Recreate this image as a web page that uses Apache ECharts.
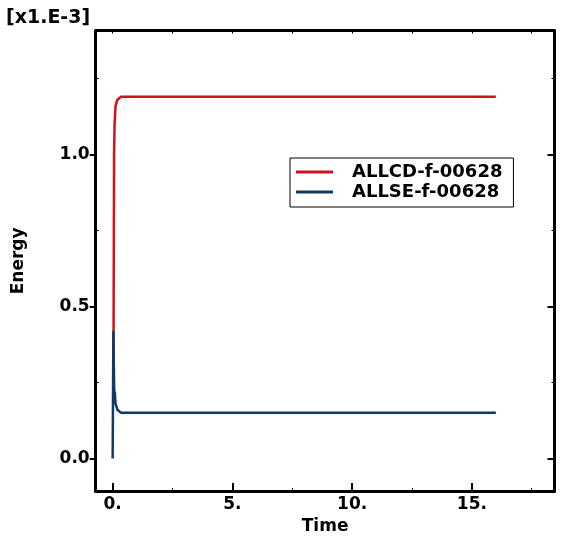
<!DOCTYPE html>
<html>
<head>
<meta charset="utf-8">
<script src="https://cdn.jsdelivr.net/npm/echarts@6/dist/echarts.min.js"></script>
<style>
  html, body { margin: 0; padding: 0; background: #fff; }
  #chart { width: 567px; height: 543px; }
</style>
</head>
<body>
<div id="chart"></div>
<script>
// energy values in units of 1e-3
const allcdTime = [0.03, 0.04, 0.05, 0.06, 0.08, 0.12, 0.2, 0.35, 1, 16];
const allcdVal = [0.2, 0.45, 0.75, 1.0, 1.1, 1.16, 1.18, 1.19, 1.19, 1.19];
const allseTime = [0, 0.03, 0.05, 0.07, 0.09, 0.12, 0.2, 0.35, 16];
const allseVal = [0, 0.42, 0.3, 0.2, 0.22, 0.18, 0.16, 0.15, 0.15];

const xMajor = [0, 5, 10, 15];
const xMinor = [2.5, 7.5, 12.5, 17.5];
const xAll = [0, 2.5, 5, 7.5, 10, 12.5, 15, 17.5];
const yMajor = [0, 0.5, 1.0];
const yMinor = [0.25, 0.75, 1.25];

const X_MIN = -0.708, X_MAX = 18.45;
const Y_MIN = -0.107, Y_MAX = 1.407;

const font = "DejaVu Sans";
const lbl = { fontFamily: font, fontSize: 17, fontWeight: "bold", color: "#000" };
const blackLine = { show: true, onZero: false, lineStyle: { color: "#000", width: 3 } };
const noLine = { show: false, onZero: false };

const pairs = (t, v) => t.map((x, i) => [x, v[i]]);

const chart = echarts.init(document.getElementById("chart"));

chart.setOption({
  animation: false,
  backgroundColor: "#fff",
  title: {
    text: "[x1.E-3]",
    left: 6,
    top: 9,
    padding: 0,
    textStyle: { fontFamily: font, fontSize: 19, fontWeight: "bold", color: "#000" }
  },
  grid: {
    left: 95.7,
    right: 12.5,
    top: 30.7,
    bottom: 52,
    outerBoundsMode: "none"
  },
  legend: {
    left: 290,
    top: 158,
    orient: "vertical",
    backgroundColor: "#fff",
    borderColor: "#000",
    borderWidth: 1,
    padding: [4, 11, 5, 6],
    itemWidth: 37,
    itemHeight: 3,
    itemGap: 0,
    icon: "rect",
    textStyle: Object.assign({}, lbl, { fontSize: 18, lineHeight: 20, padding: [0, 0, 0, 14] }),
    data: ["ALLCD-f-00628", "ALLSE-f-00628"]
  },
  xAxis: [
    {
      type: "value", min: X_MIN, max: X_MAX, position: "bottom",
      axisLine: blackLine,
      axisTick: { show: true, inside: true, length: 8, customValues: xMajor, lineStyle: { color: "#000", width: 2 } },
      axisLabel: { show: true, margin: 5, customValues: xMajor, formatter: v => v + ".", ...lbl },
      splitLine: { show: false },
      name: "Time", nameLocation: "middle", nameGap: 26,
      nameTextStyle: lbl
    },
    {
      type: "value", min: X_MIN, max: X_MAX, position: "bottom",
      axisLine: noLine,
      axisTick: { show: true, inside: true, length: 3, customValues: xMinor, lineStyle: { color: "#000", width: 1 } },
      axisLabel: { show: false },
      splitLine: { show: false }
    },
    {
      type: "value", min: X_MIN, max: X_MAX, position: "top",
      axisLine: blackLine,
      axisTick: { show: true, inside: true, length: 3, customValues: xAll, lineStyle: { color: "#000", width: 1 } },
      axisLabel: { show: false },
      splitLine: { show: false }
    }
  ],
  yAxis: [
    {
      type: "value", min: Y_MIN, max: Y_MAX, position: "left",
      axisLine: blackLine,
      axisTick: { show: true, inside: false, length: 6, customValues: yMajor, lineStyle: { color: "#000", width: 2 } },
      axisLabel: { show: true, margin: 6, customValues: yMajor, formatter: v => v.toFixed(1), ...lbl },
      splitLine: { show: false },
      name: "Energy", nameLocation: "middle", nameGap: 69,
      nameTextStyle: lbl
    },
    {
      type: "value", min: Y_MIN, max: Y_MAX, position: "left",
      axisLine: noLine,
      axisTick: { show: true, inside: true, length: 3, customValues: yMinor, lineStyle: { color: "#000", width: 1 } },
      axisLabel: { show: false },
      splitLine: { show: false }
    },
    {
      type: "value", min: Y_MIN, max: Y_MAX, position: "right",
      axisLine: blackLine,
      axisTick: { show: true, inside: true, length: 7, customValues: yMajor, lineStyle: { color: "#000", width: 2 } },
      axisLabel: { show: false },
      splitLine: { show: false }
    },
    {
      type: "value", min: Y_MIN, max: Y_MAX, position: "right",
      axisLine: noLine,
      axisTick: { show: true, inside: true, length: 3, customValues: yMinor, lineStyle: { color: "#000", width: 1 } },
      axisLabel: { show: false },
      splitLine: { show: false }
    }
  ],
  series: [
    {
      name: "ALLCD-f-00628",
      type: "line",
      xAxisIndex: 0, yAxisIndex: 0,
      showSymbol: false,
      color: "#d0121c",
      lineStyle: { width: 2.5, color: "#d0121c" },
      data: pairs(allcdTime, allcdVal)
    },
    {
      name: "ALLSE-f-00628",
      type: "line",
      xAxisIndex: 0, yAxisIndex: 0,
      showSymbol: false,
      color: "#0f3a66",
      lineStyle: { width: 2.5, color: "#0f3a66" },
      data: pairs(allseTime, allseVal)
    }
  ]
});
</script>
</body>
</html>
